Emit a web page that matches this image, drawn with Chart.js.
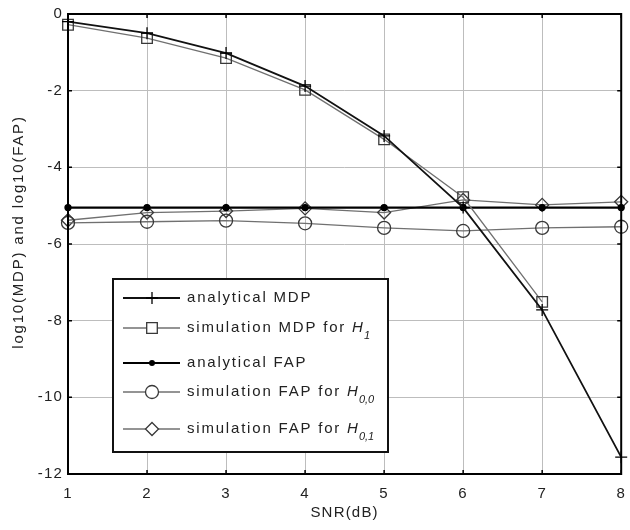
<!DOCTYPE html>
<html><head><meta charset="utf-8">
<script src="https://cdn.jsdelivr.net/npm/chart.js@4/dist/chart.umd.min.js"></script>
<style>html,body{margin:0;padding:0;background:#fff}#wrap{width:630px;height:530px}</style>
</head><body><div id="wrap"><canvas id="c" width="630" height="530"></canvas></div>
<script>
// ---- data ----
const snr = [1, 2, 3, 4, 5, 6, 7, 8];
const xTickValues = [1, 2, 3, 4, 5, 6, 7, 8];
const xTickLabels = ['1', '2', '3', '4', '5', '6', '7', '8'];
const yTickValues = [0, -2, -4, -6, -8, -10, -12];
const yTickLabels = ['0', '-2', '-4', '-6', '-8', '-10', '-12'];
const analyticalMDP = [-0.2, -0.5, -1.02, -1.88, -3.18, -5.05, -7.72, -11.56];
const simMDP_H1 = [-0.28, -0.63, -1.15, -1.98, -3.27, -4.78, -7.51, null];
const analyticalFAP = [-5.05, -5.05, -5.05, -5.05, -5.05, -5.05, -5.05, -5.05];
const simFAP_H00 = [-5.45, -5.42, -5.39, -5.46, -5.58, -5.66, -5.58, -5.55];
const simFAP_H01 = [-5.38, -5.18, -5.14, -5.07, -5.18, -4.85, -4.98, -4.9];
const legendText = ['analytical MDP', 'simulation MDP for ', 'analytical FAP', 'simulation FAP for ', 'simulation FAP for '];
const legendVar = ['', 'H', '', 'H', 'H'];
const legendSub = ['', '1', '', '0,0', '0,1'];
const xTitle = 'SNR(dB)';
const yTitle = 'log10(MDP) and log10(FAP)';

const FONT = '"Liberation Sans", Arial, Helvetica, sans-serif';
const LS = '1.8px';
const TICK_LS = '1.2px';
const SIM_LINE = '#707070';
const SIM_MARK = '#383838';

const pts = arr => snr.map((x, i) => ({x: x, y: arr[i]}));

const styles = [
  {data: analyticalMDP, line: '#111', lw: 1.8, marker: 'plus'},
  {data: simMDP_H1, line: SIM_LINE, lw: 1.3, marker: 'square'},
  {data: analyticalFAP, line: '#000', lw: 2.2, marker: 'dot'},
  {data: simFAP_H00, line: SIM_LINE, lw: 1.3, marker: 'circle'},
  {data: simFAP_H01, line: SIM_LINE, lw: 1.3, marker: 'diamond'}
];
const cjsPoint = {plus: 'cross', square: 'rect', dot: 'circle', circle: 'circle', diamond: 'rectRot'};
const cjsRadius = {plus: 6, square: 7.5, dot: 3, circle: 6.5, diamond: 6.5};

function drawMarker(ctx, m, x, y, color) {
  ctx.save();
  ctx.strokeStyle = color; ctx.fillStyle = color; ctx.lineWidth = 1.3;
  ctx.beginPath();
  if (m === 'plus') { ctx.moveTo(x - 6, y); ctx.lineTo(x + 6, y); ctx.moveTo(x, y - 6); ctx.lineTo(x, y + 6); ctx.stroke(); }
  else if (m === 'square') { ctx.fillStyle = '#fff'; ctx.rect(x - 5.3, y - 5.3, 10.6, 10.6); ctx.fill(); ctx.stroke(); }
  else if (m === 'dot') { ctx.arc(x, y, 3, 0, Math.PI * 2); ctx.fill(); }
  else if (m === 'circle') { ctx.fillStyle = '#fff'; ctx.arc(x, y, 6.5, 0, Math.PI * 2); ctx.fill(); ctx.stroke(); }
  else if (m === 'diamond') { ctx.fillStyle = '#fff'; ctx.moveTo(x, y - 6.5); ctx.lineTo(x + 6.5, y); ctx.lineTo(x, y + 6.5); ctx.lineTo(x - 6.5, y); ctx.closePath(); ctx.fill(); ctx.stroke(); }
  ctx.restore();
}

const spacingPlugin = {
  id: 'spacing',
  beforeLayout(chart) { chart.ctx.letterSpacing = TICK_LS; },
  beforeDraw(chart) { chart.ctx.letterSpacing = TICK_LS; }
};

const framePlugin = {
  id: 'frame',
  afterDraw(chart) {
    const ctx = chart.ctx, a = chart.chartArea;
    const xs = chart.scales.x, ys = chart.scales.y;
    ctx.save();
    ctx.strokeStyle = '#000';
    ctx.lineWidth = 1.5;
    ctx.beginPath();
    xTickValues.forEach(v => {
      const px = xs.getPixelForValue(v);
      ctx.moveTo(px, a.bottom); ctx.lineTo(px, a.bottom - 4);
      ctx.moveTo(px, a.top); ctx.lineTo(px, a.top + 4);
    });
    yTickValues.forEach(v => {
      const py = ys.getPixelForValue(v);
      ctx.moveTo(a.left, py); ctx.lineTo(a.left + 4, py);
      ctx.moveTo(a.right, py); ctx.lineTo(a.right - 4, py);
    });
    ctx.stroke();
    ctx.lineWidth = 2;
    ctx.strokeRect(a.left, a.top, a.right - a.left, a.bottom - a.top);

    // y axis title (MATLAB places it slightly above the axis centre)
    ctx.save();
    ctx.translate(19, 232);
    ctx.rotate(-Math.PI / 2);
    ctx.fillStyle = '#222';
    ctx.letterSpacing = LS;
    ctx.font = '15px ' + FONT;
    ctx.textAlign = 'center';
    ctx.textBaseline = 'middle';
    ctx.fillText(yTitle, 0, 0);
    ctx.restore();

    // legend box
    const L = 113, T = 279, R = 388, B = 452;
    ctx.fillStyle = '#fff';
    ctx.fillRect(L, T, R - L, B - T);
    ctx.lineWidth = 2;
    ctx.strokeStyle = '#111';
    ctx.strokeRect(L, T, R - L, B - T);
    const rows = [298, 328, 363, 392, 429];
    styles.forEach((s, i) => {
      const y = rows[i];
      ctx.save();
      ctx.strokeStyle = s.line; ctx.lineWidth = s.lw;
      ctx.beginPath(); ctx.moveTo(123, y); ctx.lineTo(180, y); ctx.stroke();
      ctx.restore();
      drawMarker(ctx, s.marker, 152, y, s.marker === 'plus' || s.marker === 'dot' ? '#000' : SIM_MARK);
      ctx.fillStyle = '#222';
      ctx.letterSpacing = LS;
      ctx.font = '15px ' + FONT;
      ctx.textBaseline = 'middle';
      ctx.textAlign = 'left';
      ctx.fillText(legendText[i], 187, y);
      if (legendVar[i]) {
        const w = ctx.measureText(legendText[i]).width;
        ctx.font = 'italic 15px ' + FONT;
        ctx.letterSpacing = '0px';
        ctx.fillText(legendVar[i], 187 + w, y);
        const w2 = ctx.measureText(legendVar[i]).width;
        ctx.font = 'italic 11px ' + FONT;
        ctx.fillText(legendSub[i], 187 + w + w2 + 1, y + 8);
        ctx.letterSpacing = LS;
      }
    });
    ctx.restore();
  }
};

new Chart(document.getElementById('c'), {
  type: 'line',
  data: {
    datasets: styles.map((s, i) => ({
      label: legendText[i] + legendVar[i] + legendSub[i],
      data: pts(s.data),
      borderColor: s.line,
      borderWidth: s.lw,
      pointStyle: cjsPoint[s.marker],
      pointRadius: cjsRadius[s.marker],
      pointHoverRadius: cjsRadius[s.marker],
      pointBorderColor: (s.marker === 'plus' || s.marker === 'dot') ? '#000' : SIM_MARK,
      pointBackgroundColor: s.marker === 'dot' ? '#000' : 'rgba(255,255,255,0)',
      pointBorderWidth: 1.3,
      tension: 0,
      spanGaps: false,
      clip: false,
      fill: false
    }))
  },
  options: {
    responsive: false,
    animation: false,
    devicePixelRatio: 1,
    layout: {padding: {top: 14, right: 8, left: 0, bottom: 0}},
    plugins: {legend: {display: false}, tooltip: {enabled: false}, title: {display: false}},
    scales: {
      x: {
        type: 'linear', min: 1, max: 8,
        afterFit(s) { s.height = 56; s.paddingLeft = 0; s.paddingRight = 0; },
        afterBuildTicks(s) { s.ticks = xTickValues.map(v => ({value: v})); },
        ticks: {
          color: '#222', font: {family: FONT, size: 15}, padding: 11, maxRotation: 0,
          callback: v => xTickLabels[xTickValues.indexOf(v)]
        },
        grid: {color: '#bdbdbd', lineWidth: 1, drawTicks: false},
        border: {display: false},
        title: {display: true, text: xTitle, color: '#222', font: {family: FONT, size: 15}, padding: 8}
      },
      y: {
        type: 'linear', min: -12, max: 0,
        afterFit(s) { s.width = 68; s.paddingTop = 0; s.paddingBottom = 0; },
        afterBuildTicks(s) { s.ticks = yTickValues.map(v => ({value: v})); },
        ticks: {
          color: '#222', font: {family: FONT, size: 15}, padding: 5,
          callback: v => yTickLabels[yTickValues.indexOf(v)]
        },
        grid: {color: '#bdbdbd', lineWidth: 1, drawTicks: false},
        border: {display: false},
        title: {display: false, text: yTitle}
      }
    }
  },
  plugins: [spacingPlugin, framePlugin]
});
</script></body></html>
